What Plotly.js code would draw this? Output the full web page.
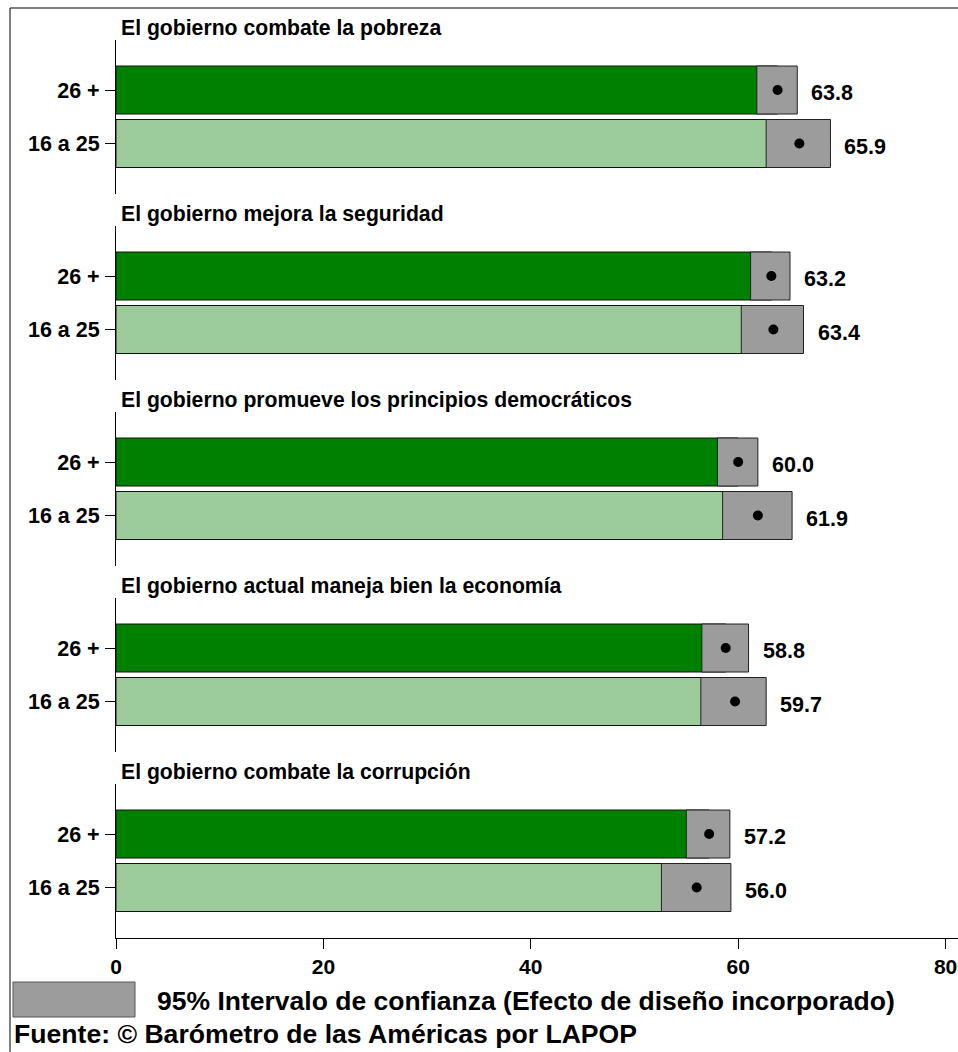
<!DOCTYPE html>
<html>
<head>
<meta charset="utf-8">
<script src="https://cdn.plot.ly/plotly-3.0.1.min.js"></script>
<style>
  html, body { margin: 0; padding: 0; background: #ffffff; }
  #chart { width: 958px; height: 1052px; }
</style>
</head>
<body>
<div id="chart"></div>
<script>
// Percepción del desempeño del gobierno por grupo de edad
const topics = [
  'El gobierno combate la pobreza',
  'El gobierno mejora la seguridad',
  'El gobierno promueve los principios democráticos',
  'El gobierno actual maneja bien la economía',
  'El gobierno combate la corrupción'
];
const groups = ['26 +', '16 a 25'];

// Promedios por grupo
const mean26 = [63.8, 63.2, 60.0, 58.8, 57.2];
const mean16 = [65.9, 63.4, 61.9, 59.7, 56.0];

// Intervalos de confianza al 95%
const low26 = [61.8, 61.2, 58.0, 56.5, 55.0];
const up26  = [65.7, 65.0, 61.9, 61.0, 59.2];
const low16 = [62.7, 60.3, 58.5, 56.4, 52.6];
const up16  = [68.9, 66.3, 65.2, 62.7, 59.3];

const xTicks = [0, 20, 40, 60, 80];

const legendText = '95% Intervalo de confianza (Efecto de diseño incorporado)';
const sourceText = 'Fuente: © Barómetro de las Américas por LAPOP';

const DARK = '#008000';
const LIGHT = '#9ccc9c';
const GREY = '#9c9c9c';
const FONT = 'Liberation Sans, Arial, Helvetica, sans-serif';

// geometry (pixels)
const W = 958, H = 1052;
const mL = 116, mR = 0, mT = 40, mB = 114;
const plotH = H - mT - mB;            // 898
const panelStep = 186, panelH = 154;
const barWidth = 0.897;
const yRange = [-0.944, 1.935];

const toPaperY = py => (H - mB - py) / plotH;
const toPaperX = px => (px - mL) / (W - mL - mR);

const traces = [];
const layout = {
  width: W, height: H,
  margin: {l: mL, r: mR, t: mT, b: mB, pad: 0},
  paper_bgcolor: '#ffffff', plot_bgcolor: 'rgba(0,0,0,0)',
  showlegend: false,
  hovermode: false,
  barmode: 'overlay',
  font: {family: FONT, size: 21, color: '#000', weight: 700},
  xaxis: {
    range: [0, 81.2], anchor: 'y5',
    tickvals: xTicks, ticktext: xTicks.map(String),
    ticks: 'outside', ticklen: 10, tickwidth: 1, tickcolor: '#000',
    showline: true, linecolor: '#000', linewidth: 1,
    showgrid: false, zeroline: false, fixedrange: true,
    tickfont: {family: FONT, size: 21, color: '#000', weight: 700}
  },
  annotations: [],
  shapes: []
};

for (let k = 0; k < topics.length; k++) {
  const yname = 'y' + (k === 0 ? '' : (k + 1));
  const axKey = 'yaxis' + (k === 0 ? '' : (k + 1));
  const top = mT + panelStep * k;
  const bottom = top + panelH;
  layout[axKey] = {
    domain: [toPaperY(bottom), toPaperY(top)],
    range: yRange, anchor: 'x',
    tickvals: [1, 0], ticktext: groups,
    ticks: 'outside', ticklen: 10, tickwidth: 1, tickcolor: '#000',
    ticklabelstandoff: 1,
    showline: true, linecolor: '#000', linewidth: 1,
    showgrid: false, zeroline: false, fixedrange: true,
    tickfont: {family: FONT, size: 21.5, color: '#000', weight: 700}
  };

  const means = [mean26[k], mean16[k]];
  const lows = [low26[k], low16[k]];
  const ups = [up26[k], up16[k]];

  // bars to the mean
  traces.push({
    type: 'bar', orientation: 'h', xaxis: 'x', yaxis: yname,
    x: means, y: [1, 0], width: barWidth,
    marker: {color: [DARK, LIGHT], line: {color: '#111', width: 1}}
  });
  // confidence interval boxes
  traces.push({
    type: 'bar', orientation: 'h', xaxis: 'x', yaxis: yname,
    base: lows, x: ups.map((u, i) => u - lows[i]), y: [1, 0], width: barWidth,
    marker: {color: GREY, line: {color: '#222', width: 1}}
  });
  // mean points
  traces.push({
    type: 'scatter', mode: 'markers', xaxis: 'x', yaxis: yname,
    x: means, y: [1, 0],
    marker: {color: '#000', size: 10}
  });

  // value labels
  for (let i = 0; i < 2; i++) {
    layout.annotations.push({
      xref: 'x', yref: yname, x: ups[i], y: [1, 0][i],
      xanchor: 'left', yanchor: 'middle', xshift: 12, yshift: -3,
      text: means[i].toFixed(1), showarrow: false,
      font: {family: FONT, size: 21.5, color: '#000', weight: 700}
    });
  }

  // panel title
  layout.annotations.push({
    xref: 'paper', yref: 'paper',
    x: toPaperX(119), y: toPaperY(top - 12),
    xanchor: 'left', yanchor: 'middle',
    text: topics[k], showarrow: false,
    font: {family: FONT, size: 21.2, color: '#000', weight: 700}
  });
}

// footer: confidence interval key and source
layout.shapes.push({
  type: 'rect', xref: 'paper', yref: 'paper',
  x0: toPaperX(13), x1: toPaperX(135), y0: toPaperY(1017), y1: toPaperY(982),
  fillcolor: GREY, line: {color: '#555', width: 1}
});
layout.annotations.push({
  xref: 'paper', yref: 'paper', x: toPaperX(155), y: toPaperY(1001),
  xanchor: 'left', yanchor: 'middle', text: legendText, showarrow: false,
  font: {family: FONT, size: 26.5, color: '#000', weight: 700}
});
layout.annotations.push({
  xref: 'paper', yref: 'paper', x: toPaperX(12), y: toPaperY(1034),
  xanchor: 'left', yanchor: 'middle', text: sourceText, showarrow: false,
  font: {family: FONT, size: 26.6, color: '#000', weight: 700}
});

// outer frame (left and top edges)
layout.shapes.push({
  type: 'line', xref: 'paper', yref: 'paper',
  x0: toPaperX(10), x1: toPaperX(10), y0: toPaperY(8), y1: toPaperY(H + 5),
  line: {color: '#000', width: 1}
});
layout.shapes.push({
  type: 'line', xref: 'paper', yref: 'paper',
  x0: toPaperX(10), x1: toPaperX(W + 5), y0: toPaperY(8), y1: toPaperY(8),
  line: {color: '#000', width: 1}
});

Plotly.newPlot('chart', traces, layout, {displayModeBar: false, staticPlot: true});
</script>
</body>
</html>
